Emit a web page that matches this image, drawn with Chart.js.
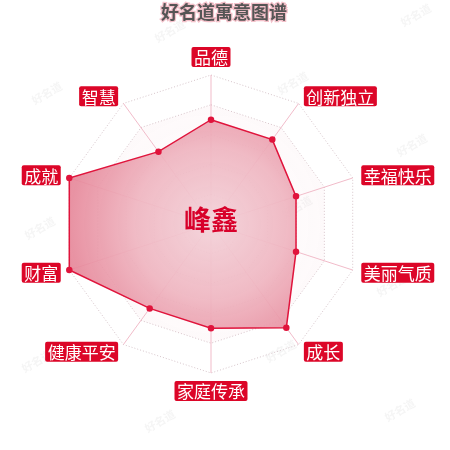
<!DOCTYPE html>
<html>
<head>
<meta charset="utf-8">
<script src="https://cdn.jsdelivr.net/npm/chart.js@4.4.0/dist/chart.umd.min.js"></script>
<style>
  html, body { margin: 0; padding: 0; background: #fff; }
  #wrap { width: 450px; height: 450px; }
</style>
</head>
<body>
<div id="wrap"><canvas id="mycanvas" width="450" height="450"></canvas></div>
<script>
var titleText = "好名道寓意图谱";
var nameText = "峰鑫";
var labels = ["品德", "创新独立", "幸福快乐", "美丽气质", "成长", "家庭传承", "健康平安", "财富", "成就", "智慧"];
var scores = [70, 70, 60, 60, 86, 70, 70, 100, 100, 60];
var watermarkSpots = [[170, 31], [293, 83], [47, 93], [416, 15], [412, 145], [40, 228], [297, 207], [392, 285], [37, 361], [160, 421], [281, 351], [400, 410]];

var cjk = '"Noto Sans CJK SC", "Noto Sans", sans-serif';

// watermark, title, label boxes and the name in the middle
var decor = {
    id: 'decor',
    beforeDraw: function(chart) {
        var ctx = chart.ctx;
        ctx.save();
        ctx.font = 'bold 11px ' + cjk;
        ctx.fillStyle = 'rgba(120,120,120,0.07)';
        ctx.textAlign = 'center';
        ctx.textBaseline = 'middle';
        for (var i = 0; i < watermarkSpots.length; i++) {
            ctx.save();
            ctx.translate(watermarkSpots[i][0], watermarkSpots[i][1]);
            ctx.rotate(-Math.PI / 6);
            ctx.fillText('好名道', 0, 0);
            ctx.restore();
        }
        ctx.restore();
    },
    beforeDatasetsDraw: function(chart) {
        var ctx = chart.ctx;
        var scale = chart.scales.r;
        ctx.save();
        var g = ctx.createRadialGradient(scale.xCenter, scale.yCenter, 0, scale.xCenter, scale.yCenter, scale.drawingArea);
        g.addColorStop(0, 'rgba(245,215,222,0.05)');
        g.addColorStop(1, 'rgba(240,190,200,0.10)');
        ctx.fillStyle = g;
        ctx.beginPath();
        for (var i = 0; i < labels.length; i++) {
            var p = scale.getPointPosition(i, scale.drawingArea * 0.8);
            if (i == 0) ctx.moveTo(p.x, p.y); else ctx.lineTo(p.x, p.y);
        }
        ctx.closePath();
        ctx.fill();
        ctx.restore();
    },
    afterDraw: function(chart) {
        var ctx = chart.ctx;
        var scale = chart.scales.r;
        ctx.save();

        // title
        ctx.font = 'bold 18px ' + cjk;
        ctx.textAlign = 'center';
        ctx.textBaseline = 'middle';
        ctx.lineWidth = 2.5;
        ctx.strokeStyle = 'rgba(235,150,165,0.6)';
        ctx.strokeText(titleText, 224, 12);
        ctx.fillStyle = '#555555';
        ctx.fillText(titleText, 224, 12);

        // axis labels in red boxes
        ctx.font = '17px ' + cjk;
        for (var i = 0; i < labels.length; i++) {
            var angle = i * 360 / labels.length;
            var w = ctx.measureText(labels[i]).width + 5;
            var h = 20;
            var bx, by;
            if (angle == 0) {
                var p0 = scale.getPointPosition(i, scale.drawingArea + 8);
                bx = p0.x - w / 2; by = p0.y - h;
            } else if (angle == 180) {
                var p1 = scale.getPointPosition(i, scale.drawingArea + 8);
                bx = p1.x - w / 2; by = p1.y;
            } else {
                var p = scale.getPointPosition(i, scale.drawingArea + 9);
                bx = angle < 180 ? p.x : p.x - w;
                by = p.y - h / 2;
            }
            ctx.fillStyle = '#dc0628';
            ctx.beginPath();
            ctx.roundRect(bx, by, w, h, 2);
            ctx.fill();
            ctx.fillStyle = '#ffffff';
            ctx.textAlign = 'center';
            ctx.textBaseline = 'middle';
            ctx.fillText(labels[i], bx + w / 2, by + h / 2 + 1);
        }

        // name
        ctx.font = 'bold 27px ' + cjk;
        ctx.fillStyle = '#d8002a';
        ctx.textAlign = 'center';
        ctx.textBaseline = 'middle';
        ctx.fillText(nameText, scale.xCenter, scale.yCenter - 4);
        ctx.restore();
    }
};

var chartdata = {
    labels: labels,
    datasets: [
        {
            label: nameText,
            data: scores,
            borderColor: '#e0143c',
            borderWidth: 1.5,
            pointBackgroundColor: '#e0143c',
            pointBorderColor: '#e0143c',
            pointRadius: 2.5,
            backgroundColor: function(context) {
                var chart = context.chart;
                var scale = chart.scales.r;
                if (!chart.chartArea || !scale) return 'rgba(230,120,140,0.6)';
                var g = chart.ctx.createRadialGradient(scale.xCenter, scale.yCenter, 0, scale.xCenter, scale.yCenter, scale.drawingArea);
                g.addColorStop(0, 'rgba(243,210,217,0.95)');
                g.addColorStop(0.5, 'rgba(239,182,193,0.92)');
                g.addColorStop(1, 'rgba(229,130,149,0.9)');
                return g;
            }
        }
    ]
};

var ctx = document.getElementById('mycanvas');

var RadarGraph = new Chart(ctx, {
    type: 'radar',
    data: chartdata,
    plugins: [decor],
    options: {
        responsive: false,
        animation: false,
        layout: { padding: { left: 62, right: 89, top: 75, bottom: 76 } },
        plugins: {
            legend: { display: false },
            tooltip: { enabled: false },
            title: { display: false }
        },
        elements: { line: { tension: 0 } },
        scales: {
            r: {
                min: 0,
                max: 100,
                ticks: { display: false, stepSize: 20 },
                pointLabels: { display: false },
                grid: { color: 'rgba(210,190,196,0.9)', lineWidth: 1 },
                border: { dash: [1, 2] },
                angleLines: { color: 'rgba(238,170,188,0.8)', lineWidth: 1 }
            }
        }
    }
});
</script>
</body>
</html>
